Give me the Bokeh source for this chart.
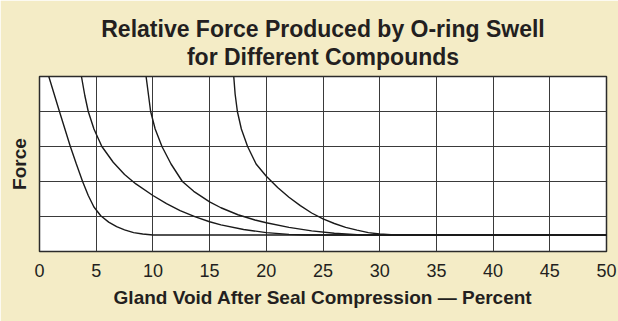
from bokeh.plotting import figure
from bokeh.models import Range1d, FixedTicker, Title
from bokeh.embed import file_html
from bokeh.resources import INLINE

# ---- data ----
x_ticks = [0, 5, 10, 15, 20, 25, 30, 35, 40, 45, 50]
y_grid = [1, 2, 3, 4]

c1_x = [0.82, 1.76, 2.72, 3.25, 3.8, 4.3, 4.8, 5.4, 6.1, 6.8, 7.5, 8.3, 9.1, 10.0, 50]
c1_y = [5, 4, 3, 2.5, 2.0, 1.6, 1.27, 1.02, 0.84, 0.71, 0.62, 0.54, 0.5, 0.47, 0.47]

c2_x = [3.7, 4.0, 4.3, 4.8, 5.5, 6.5, 7.5, 8.5, 10, 11.2, 12.4, 13.75, 15, 16, 18, 20, 22, 23.5, 50]
c2_y = [5, 4.45, 4.0, 3.5, 3.0, 2.55, 2.2, 1.93, 1.6, 1.37, 1.17, 0.99, 0.85, 0.76, 0.63, 0.54, 0.49, 0.47, 0.47]

c3_x = [9.4, 9.8, 10.2, 10.8, 11.6, 12.6, 13.6, 15, 16, 17.5, 19, 20, 22, 24, 26, 28, 29.5, 50]
c3_y = [5, 4, 3.5, 3, 2.5, 2.0, 1.72, 1.42, 1.25, 1.05, 0.9, 0.82, 0.69, 0.59, 0.52, 0.48, 0.47, 0.47]

c4_x = [17.13, 17.25, 17.45, 17.8, 18.35, 19.1, 20, 21, 22, 23, 24, 25, 26, 27, 28, 29, 30, 31, 32, 50]
c4_y = [5, 4.5, 4.0, 3.5, 3.0, 2.5, 2.15, 1.83, 1.55, 1.31, 1.1, 0.93, 0.8, 0.69, 0.61, 0.54, 0.5, 0.48, 0.47, 0.47]

title_lines = ["Relative Force Produced by O-ring Swell", "for Different Compounds"]
y_label = "Force"

BEIGE = "#F4ECC6"
INK = "#231f20"
FONT = "Liberation Sans"

p = figure(width=618, height=321, output_backend="svg", toolbar_location=None,
           x_range=Range1d(0, 50), y_range=Range1d(0, 5),
           min_border_left=39, min_border_right=12,
           min_border_top=76, min_border_bottom=70)

p.border_fill_color = BEIGE
p.background_fill_color = "white"
p.outline_line_color = "#2b2b2b"
p.outline_line_width = 1.5

# title (two centred lines): the added Title sits next to the frame
p.title.text = title_lines[0]
p.title.align = "center"
p.title.text_font = FONT
p.title.text_font_size = "23px"
p.title.text_font_style = "bold"
p.title.text_color = INK
p.title.standoff = -15
p.add_layout(Title(text=title_lines[1], align="center", text_font=FONT,
                   text_font_size="23px", text_font_style="bold",
                   text_color=INK, standoff=14), "above")

# y axis: label only
p.yaxis.ticker = FixedTicker(ticks=[])
p.yaxis.axis_line_color = None
p.yaxis.major_tick_line_color = None
p.yaxis.minor_tick_line_color = None
p.yaxis.major_tick_out = 0
p.yaxis.major_label_standoff = 0
p.yaxis.major_label_text_font_size = "0px"
p.yaxis.axis_label = y_label
p.yaxis.axis_label_text_font = FONT
p.yaxis.axis_label_text_font_size = "19px"
p.yaxis.axis_label_text_font_style = "bold"
p.yaxis.axis_label_text_color = INK
p.yaxis.axis_label_standoff = 10

# x axis
p.xaxis.ticker = FixedTicker(ticks=x_ticks)
p.xaxis.axis_line_color = None
p.xaxis.major_tick_line_color = None
p.xaxis.minor_tick_line_color = None
p.xaxis.major_label_text_font = FONT
p.xaxis.major_label_text_font_size = "18px"
p.xaxis.major_label_text_color = INK
p.xaxis.major_label_standoff = 6
p.xaxis.axis_label = "Gland Void After Seal Compression \u2014 Percent"
p.xaxis.axis_label_text_font = FONT
p.xaxis.axis_label_text_font_size = "19px"
p.xaxis.axis_label_text_font_style = "bold"
p.xaxis.axis_label_text_color = INK
p.xaxis.axis_label_standoff = 7

# grids
p.xgrid.ticker = FixedTicker(ticks=x_ticks)
p.ygrid.ticker = FixedTicker(ticks=y_grid)
for g in (p.xgrid, p.ygrid):
    g.grid_line_color = "#3a3a3a"
    g.grid_line_width = 1
    g.grid_line_alpha = 1

for xs, ys in ((c1_x, c1_y), (c2_x, c2_y), (c3_x, c3_y), (c4_x, c4_y)):
    p.line(xs, ys, line_color="#1a1a1a", line_width=1.4)

open("out.html", "w").write(file_html(p, INLINE))
